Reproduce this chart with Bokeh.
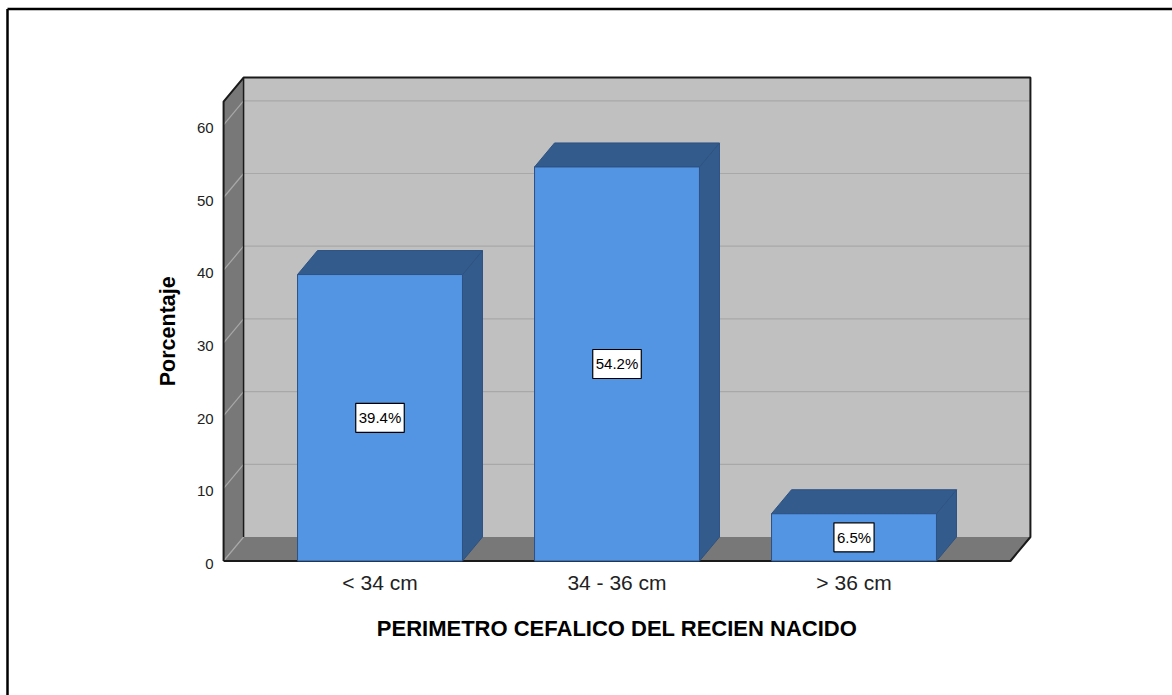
from bokeh.plotting import figure
from bokeh.models import Range1d, ColumnDataSource
from bokeh.core.properties import value
from bokeh.embed import file_html
from bokeh.resources import INLINE

# --- data -------------------------------------------------------------
categories = ["< 34 cm", "34 - 36 cm", "> 36 cm"]
percentages = [39.4, 54.2, 6.5]
y_ticks = [0, 10, 20, 30, 40, 50, 60]
x_title = "PERIMETRO CEFALICO DEL RECIEN NACIDO"
y_title = "Porcentaje"

# --- canvas / scale set-up --------------------------------------------
W, H = 1172, 695
PX_PER_CAT = 237.0          # horizontal pixels per category step
PX_PER_PCT = 7.27           # vertical pixels per percentage point
ORIGIN_X_PX, ORIGIN_Y_PX = 379.5, 560.5   # where (first category, 0 %) lands

x_start = -ORIGIN_X_PX / PX_PER_CAT
x_end = x_start + W / PX_PER_CAT
y_start = -(H - ORIGIN_Y_PX) / PX_PER_PCT
y_end = y_start + H / PX_PER_PCT

def px_x(n):
    return n / PX_PER_CAT

def px_y(n):
    return n / PX_PER_PCT

# box of the 3-D plotting area
X_LO, X_HI = -0.66, 2.66
Y_TOP = 63.2
DX, DY = px_x(20), px_y(24)         # depth offset of the back wall
BAR_HALF = 0.348

FONT = value("Liberation Sans")
WALL = "#c0c0c0"
SIDE = "#787878"
GRID = "#a8a8a8"
EDGE = "#1a1a1a"
BAR_FRONT = "#5394e3"
BAR_DARK = "#335b8c"
BAR_EDGE = "#2d5283"

p = figure(width=W, height=H, x_range=Range1d(x_start, x_end),
           y_range=Range1d(y_start, y_end), min_border=0,
           x_axis_location=None, y_axis_location=None,
           toolbar_location=None, output_backend="svg")
p.grid.visible = False
p.outline_line_color = None
p.background_fill_color = "white"
p.border_fill_color = "white"

# --- walls and floor ---------------------------------------------------
p.quad(left=[X_LO + DX], right=[X_HI + DX], bottom=[DY], top=[Y_TOP + DY],
       fill_color=WALL, line_color=None)

grid_vals = [t for t in y_ticks if t > 0]
p.segment(x0=[X_LO + DX] * len(grid_vals), x1=[X_HI + DX] * len(grid_vals),
          y0=[t + DY for t in grid_vals], y1=[t + DY for t in grid_vals],
          line_color=GRID, line_width=1.2)

p.patches(xs=[[X_LO, X_LO, X_LO + DX, X_LO + DX],
              [X_LO, X_HI, X_HI + DX, X_LO + DX]],
          ys=[[0, Y_TOP, Y_TOP + DY, DY],
              [0, 0, DY, DY]],
          fill_color=SIDE, line_color=None)

# grid lines running across the side wall
p.segment(x0=[X_LO] * len(y_ticks), x1=[X_LO + DX] * len(y_ticks),
          y0=y_ticks, y1=[t + DY for t in y_ticks],
          line_color=GRID, line_width=1.2)

# frame edges
p.line(x=[X_LO, X_LO, X_LO + DX, X_HI + DX, X_HI + DX, X_HI, X_LO],
       y=[0, Y_TOP, Y_TOP + DY, Y_TOP + DY, DY, 0, 0],
       line_color=EDGE, line_width=2)
p.line(x=[X_LO + DX, X_LO + DX], y=[DY, Y_TOP + DY],
       line_color=EDGE, line_width=1.5)

# --- bars --------------------------------------------------------------
xs = list(range(len(categories)))
src = ColumnDataSource(dict(
    x=xs, left=[x - BAR_HALF for x in xs], right=[x + BAR_HALF for x in xs],
    top=percentages, mid=[v / 2 for v in percentages],
    label=[f"{v}%" for v in percentages],
    top_xs=[[x - BAR_HALF, x + BAR_HALF, x + BAR_HALF + DX, x - BAR_HALF + DX] for x in xs],
    top_ys=[[v, v, v + DY, v + DY] for v in percentages],
    side_xs=[[x + BAR_HALF, x + BAR_HALF + DX, x + BAR_HALF + DX, x + BAR_HALF] for x in xs],
    side_ys=[[0, DY, v + DY, v] for v in percentages],
))

p.patches(xs="side_xs", ys="side_ys", source=src,
          fill_color=BAR_DARK, line_color=BAR_EDGE, line_width=1)
p.patches(xs="top_xs", ys="top_ys", source=src,
          fill_color=BAR_DARK, line_color=BAR_EDGE, line_width=1)
p.quad(left="left", right="right", bottom=0, top="top", source=src,
       fill_color=BAR_FRONT, line_color=BAR_EDGE, line_width=1)

# value boxes
p.text(x="x", y="mid", text="label", source=src,
       text_align="center", text_baseline="middle",
       text_font=FONT, text_font_size="15px", text_color="black",
       background_fill_color="white", border_line_color="black",
       border_line_width=1.2, padding=(3, 6))

# --- axes text ---------------------------------------------------------
p.text(x=[X_LO - px_x(10)] * len(y_ticks), y=y_ticks,
       text=[str(t) for t in y_ticks], y_offset=3,
       text_align="right", text_baseline="middle",
       text_font=FONT, text_font_size="15px", text_color="#222222")

p.text(x=xs, y=[0] * len(xs), text=categories, y_offset=21,
       text_align="center", text_baseline="middle",
       text_font=FONT, text_font_size="21px", text_color="#222222")

p.text(x=[(X_LO + X_HI) / 2], y=[0], text=[x_title], y_offset=67,
       text_align="center", text_baseline="middle",
       text_font=FONT, text_font_size="22px", text_font_style="bold",
       text_color="black")

p.text(x=[X_LO - px_x(56)], y=[Y_TOP / 2], text=[y_title], angle=1.5708,
       text_align="center", text_baseline="middle",
       text_font=FONT, text_font_size="21.5px", text_font_style="bold",
       text_color="black")

# --- outer border (top and left) ---------------------------------------
bx = x_start + px_x(7)
by = y_end - px_y(8.5)
p.line(x=[bx, bx], y=[y_start, by], line_color="black", line_width=2.5)
p.line(x=[bx, x_end], y=[by, by], line_color="black", line_width=2.5)

open("out.html", "w").write(file_html(p, INLINE))
